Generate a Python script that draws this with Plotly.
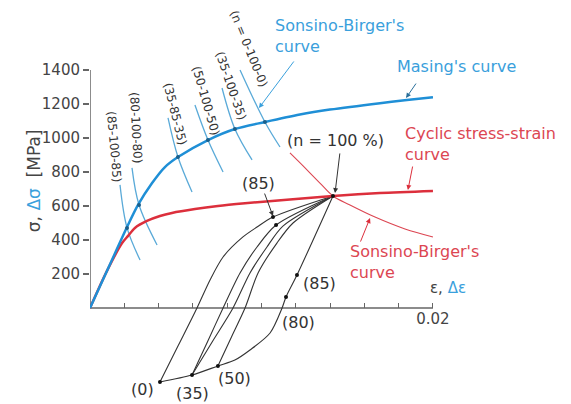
import plotly.graph_objects as go

# ---------------- data (strain, stress in MPa) ----------------
masing_strain = [0, 0.00108, 0.00216, 0.00280, 0.00362, 0.00437, 0.00513, 0.00688, 0.00845,
                 0.01020, 0.01224, 0.01399, 0.01691, 0.01848, 0.02000]
masing_stress = [0, 238, 476, 606, 735, 829, 888, 988, 1053, 1094, 1138, 1167, 1205, 1223, 1240]

cyclic_strain = [0, 0.00093, 0.00187, 0.00222, 0.00262, 0.00332, 0.00408, 0.00478, 0.00612,
                 0.00746, 0.00904, 0.01079, 0.01254, 0.01417, 0.01691, 0.02000]
cyclic_stress = [0, 206, 382, 424, 471, 512, 541, 559, 582, 600, 616, 631, 646, 659, 676, 688]

sb_red_strain = [0.01166, 0.01254, 0.01341, 0.01417, 0.01516, 0.01662, 0.01837, 0.02000]
sb_red_stress = [912, 824, 735, 659, 606, 535, 465, 418]

unload_strain = [0.01417, 0.01207, 0.01143, 0.01120, 0.01050, 0.00933, 0.00845, 0.00746, 0.00595, 0.00408]
unload_stress = [659, 194, 65, 0, -147, -247, -306, -341, -394, -435]

branch_a_strain = [0.00408, 0.00516, 0.00624, 0.00700, 0.00776, 0.00892, 0.00974, 0.01067, 0.01417]
branch_a_stress = [-435, -218, 0, 165, 300, 418, 476, 535, 659]
branch_b_strain = [0.00595, 0.00686, 0.00776, 0.00875, 0.00974, 0.01085, 0.01417]
branch_b_stress = [-394, -197, 0, 206, 359, 488, 659]
branch_c_strain = [0.00595, 0.00714, 0.00834, 0.00933, 0.01032, 0.01125, 0.01417]
branch_c_stress = [-394, -197, 0, 206, 359, 482, 659]
branch_d_strain = [0.00746, 0.00825, 0.00904, 0.00980, 0.01090, 0.01184, 0.01417]
branch_d_stress = [-341, -170, 0, 206, 382, 500, 659]

dot_strain = [0.01417, 0.00408, 0.00595, 0.00746, 0.01143, 0.01207, 0.01067, 0.01085]
dot_stress = [659, -435, -394, -341, 65, 194, 535, 488]

sb_labels = ["(85-100-85)", "(80-100-80)", "(35-85-35)", "(50-100-50)", "(35-100-35)", "(n = 0-100-0)"]
sb_line_strain = [[0.00175, 0.00216, 0.00292], [0.00245, 0.00286, 0.00391], [0.00455, 0.00513, 0.00595],
                  [0.00612, 0.00688, 0.00776], [0.00770, 0.00845, 0.00945], [0.00875, 0.01020, 0.01108]]
sb_line_stress = [[724, 471, 282], [824, 606, 371], [1118, 888, 682],
                  [1194, 988, 800], [1294, 1053, 871], [1400, 1094, 947]]
sb_label_strain = [0.00140, 0.00268, 0.00496, 0.00676, 0.00822, 0.00927]
sb_label_stress = [953, 1059, 1141, 1218, 1306, 1524]
sb_label_angle = [85, 87, 76, 74, 71, 68]

y_ticks = [200, 400, 600, 800, 1000, 1200, 1400]
x_ticks = [0.002, 0.004, 0.006, 0.008, 0.010, 0.012, 0.014, 0.016, 0.018, 0.020]
x_ticktext = [""] * 9 + ["0.02"]

# ---------------- styling ----------------
FONT = "DejaVu Sans, Arial, sans-serif"
BLUE = "#1f8fd6"
BLUE_T = "#3aa0dc"
BLUE_THIN = "#5aaad8"
RED = "#dc2f3c"
RED_T = "#dc4652"
BLACK = "#333333"
AXIS = "#666666"

XMAX = 0.02805
YMIN, YMAX = -564.7, 1764.7

fig = go.Figure()

# axes lines
fig.add_trace(go.Scatter(x=[0, 0], y=[0, max(y_ticks)], mode="lines",
                         line=dict(color=AXIS, width=1.5), hoverinfo="skip"))
fig.add_trace(go.Scatter(x=[0, max(x_ticks)], y=[0, 0], mode="lines",
                         line=dict(color=AXIS, width=1.5), hoverinfo="skip"))

# Sonsino-Birger blue lines
for xs, ys in zip(sb_line_strain, sb_line_stress):
    fig.add_trace(go.Scatter(x=xs, y=ys, mode="lines", line=dict(color=BLUE_THIN, width=1.3, shape="spline"),
                             hoverinfo="skip"))

# hysteresis branches
for xs, ys in [(unload_strain, unload_stress), (branch_a_strain, branch_a_stress),
               (branch_b_strain, branch_b_stress), (branch_c_strain, branch_c_stress),
               (branch_d_strain, branch_d_stress)]:
    fig.add_trace(go.Scatter(x=xs, y=ys, mode="lines",
                             line=dict(color=BLACK, width=1.1, shape="spline", smoothing=0.8),
                             hoverinfo="skip"))

# red thin Sonsino-Birger curve
fig.add_trace(go.Scatter(x=sb_red_strain, y=sb_red_stress, mode="lines",
                         line=dict(color=RED_T, width=1.1, shape="spline"), hoverinfo="skip"))
# cyclic stress-strain curve
fig.add_trace(go.Scatter(x=cyclic_strain, y=cyclic_stress, mode="lines",
                         line=dict(color=RED, width=2.5, shape="spline", smoothing=0.8), hoverinfo="skip"))
# Masing curve
fig.add_trace(go.Scatter(x=masing_strain, y=masing_stress, mode="lines",
                         line=dict(color=BLUE, width=2.5, shape="spline", smoothing=0.8), hoverinfo="skip"))

# intersection dots
fig.add_trace(go.Scatter(x=[l[1] for l in sb_line_strain], y=[l[1] for l in sb_line_stress], mode="markers",
                         marker=dict(color="#1b5f8a", size=4), hoverinfo="skip"))
fig.add_trace(go.Scatter(x=dot_strain, y=dot_stress, mode="markers",
                         marker=dict(color="#111111", size=4), hoverinfo="skip"))

ann = []
# rotated SB labels
for t, x, y, a in zip(sb_labels, sb_label_strain, sb_label_stress, sb_label_angle):
    ann.append(dict(x=x, y=y, text=t, textangle=a, showarrow=False,
                    font=dict(size=12, color=BLACK, family=FONT)))

def txt(x, y, t, color, size=16, xanchor="left", align="left"):
    ann.append(dict(x=x, y=y, text=t, showarrow=False, xanchor=xanchor, yanchor="middle", align=align,
                    font=dict(size=size, color=color, family=FONT)))

def arrow(x0, y0, x1, y1, color):
    ann.append(dict(x=x1, y=y1, ax=x0, ay=y0, axref="x", ayref="y", text="", showarrow=True,
                    arrowhead=2, arrowsize=1, arrowwidth=1, arrowcolor=color))

txt(0.01067, 1600, "Sonsino-Birger's<br>curve", BLUE_T)
arrow(0.01195, 1459, 0.00985, 1176, BLUE_T)
txt(0.01778, 1418, "Masing's curve", BLUE_T)
arrow(0.01907, 1329, 0.01843, 1235, "#2a6f9a")
txt(0.01825, 965, "Cyclic stress-strain<br>curve", RED_T)
arrow(0.01883, 841, 0.01854, 694, RED)
txt(0.01504, 271, "Sonsino-Birger's<br>curve", RED_T)
arrow(0.01574, 382, 0.01633, 529, RED)
txt(0.01434, 988, "(n = 100 %)", BLACK, xanchor="center")
arrow(0.01458, 918, 0.01429, 676, BLACK)
txt(0.00980, 735, "(85)", BLACK, xanchor="center")
arrow(0.01015, 682, 0.01067, 541, BLACK)
txt(0.01341, 147, "(85)", BLACK, xanchor="center")
txt(0.01213, -88, "(80)", BLACK, xanchor="center")
txt(0.00309, -482, "(0)", BLACK, xanchor="center")
txt(0.00600, -503, "(35)", BLACK, xanchor="center")
txt(0.00845, -412, "(50)", BLACK, xanchor="center")
# x axis title
txt(0.01971, 118, "ε, <span style='color:%s'>Δε</span>" % BLUE_T, "#444444", size=15)
# y axis title
ann.append(dict(xref="paper", yref="y", x=-0.142, y=750, textangle=-90, showarrow=False,
                text="σ, <span style='color:%s'>Δσ</span>&nbsp;&nbsp;[MPa]" % BLUE_T,
                font=dict(size=17, color="#444444", family=FONT)))

fig.update_layout(
    width=563, height=396,
    margin=dict(l=82, r=0, t=0, b=0),
    paper_bgcolor="white", plot_bgcolor="white",
    showlegend=False,
    annotations=ann,
    xaxis=dict(range=[0, XMAX], showgrid=False, zeroline=False, showline=False,
               anchor="free", position=(0 - YMIN) / (YMAX - YMIN),
               tickvals=x_ticks, ticktext=x_ticktext, ticks="inside", ticklen=5,
               tickcolor=AXIS, tickwidth=1, tickfont=dict(size=15, color="#444444", family=FONT)),
    yaxis=dict(range=[YMIN, YMAX], showgrid=False, zeroline=False, showline=False,
               tickvals=y_ticks, ticks="outside", ticklen=6, tickcolor=AXIS, tickwidth=1.5,
               tickfont=dict(size=15, color="#444444", family=FONT)),
)

fig.write_html("out.html")
